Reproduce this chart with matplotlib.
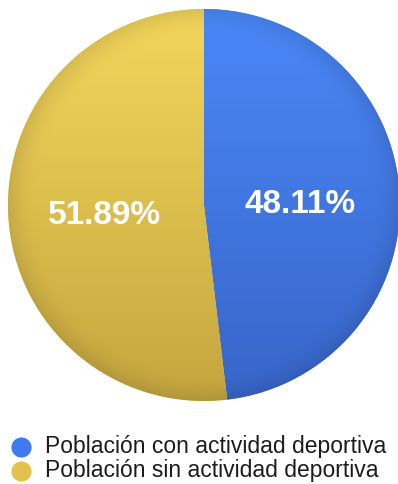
import numpy as np
import matplotlib
matplotlib.use("Agg")
import matplotlib.pyplot as plt
from matplotlib.colors import to_rgb

plt.rcParams['font.family'] = ['Liberation Sans', 'DejaVu Sans']

labels = ['Población con actividad deportiva', 'Población sin actividad deportiva']
values = [48.11, 51.89]
top_colors = ['#4a88f8', '#f3d65c']
bottom_colors = ['#3865c8', '#c5a63f']
legend_colors = ['#3f7bf0', '#e2c24c']

W, H = 398, 485
fig = plt.figure(figsize=(W / 100, H / 100), dpi=100)
cx, cy, r = 204, 206, 196
ax = fig.add_axes([(cx - r) / W, (H - cy - r) / H, 2 * r / W, 2 * r / H])

wedges, texts, autotexts = ax.pie(values, colors=top_colors, startangle=90, counterclock=False,
                                  radius=1, autopct='%.2f%%', pctdistance=0.5,
                                  wedgeprops=dict(linewidth=0),
                                  textprops=dict(color='white', fontsize=24, fontweight='bold'))
ax.set_xlim(-1, 1)
ax.set_ylim(-1, 1)
ax.axis('off')

# vertical shading with a slightly darker rim
n = 400
yy, xx = np.mgrid[1:-1:n * 1j, -1:1:n * 1j]
t = (1 - yy) / 2
rr = np.sqrt(xx ** 2 + yy ** 2)
rim = 1 - 0.10 * np.clip((rr - 0.85) / 0.15, 0, 1) ** 2
for w, c0, c1 in zip(wedges, top_colors, bottom_colors):
    a, b = np.array(to_rgb(c0)), np.array(to_rgb(c1))
    img = a[None, None, :] * (1 - t[..., None]) + b[None, None, :] * t[..., None]
    img = img * rim[..., None]
    im = ax.imshow(np.clip(img, 0, 1), extent=(-1, 1, -1, 1), zorder=1.5, interpolation='bilinear')
    im.set_clip_path(w)

for tx in autotexts:
    tx.set_zorder(5)
    x0, y0 = tx.get_position()
    tx.set_position((x0 - 0.01, y0 - 0.02))

# legend drawn in pixel coordinates
lax = fig.add_axes([0, 0, 1, 1])
lax.set_xlim(0, W)
lax.set_ylim(H, 0)
lax.axis('off')
row_y = [448, 472]
for c, lab, y in zip(legend_colors, labels, row_y):
    lax.plot([20.5], [y], marker='o', markersize=14.5, markerfacecolor=c,
             markeredgewidth=0, linestyle='none')
    lax.text(45, y + 5.5, lab, fontsize=16.5, color='#1c1c1c', va='baseline', ha='left')

fig.savefig('out.png', dpi=100, facecolor='white')
